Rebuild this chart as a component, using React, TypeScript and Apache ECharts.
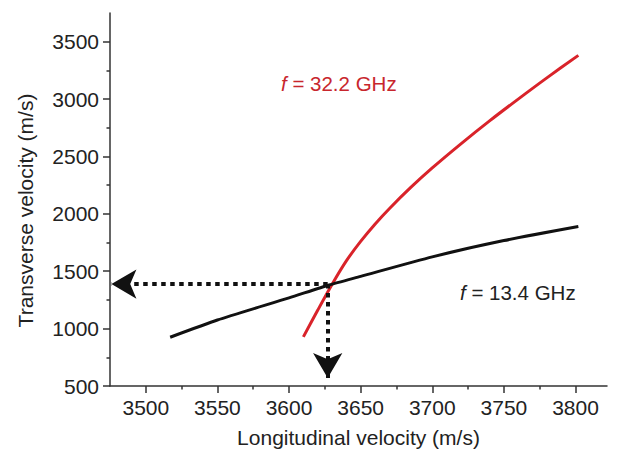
import React, { useEffect, useRef } from 'react';
import * as echarts from 'echarts';

// Axis ticks
const xTicks = [3500, 3550, 3600, 3650, 3700, 3750, 3800];
const xMinorTicks = [3525, 3575, 3625, 3675, 3725, 3775];
const yTicks = [500, 1000, 1500, 2000, 2500, 3000, 3500];
const yMinorTicks = [750, 1250, 1750, 2250, 2750, 3250];

// f = 13.4 GHz (black)
const lowX = [3517, 3550, 3600, 3628, 3650, 3700, 3750, 3802];
const lowY = [925, 1075, 1268, 1380, 1455, 1625, 1767, 1889];

// f = 32.2 GHz (red)
const highX = [3610, 3620, 3630, 3640, 3650, 3660, 3670, 3685, 3700, 3720, 3740, 3760, 3780, 3802];
const highY = [928, 1160, 1385, 1590, 1760, 1910, 2045, 2230, 2400, 2610, 2810, 3000, 3185, 3381];

// Crossing point and arrow ends
const crossX = 3627;
const crossY = 1388;
const hArrowEndX = 3476;
const vArrowEndY = 570;

const X_MIN = 3475;
const X_MAX = 3822;
const Y_MIN = 500;
const Y_MAX = 3750;

const FONT = '"Liberation Sans", Arial, Helvetica, sans-serif';
const TEXT = '#222';
const AXIS = '#333';
const FS = 21;

export default function App() {
  const ref = useRef<HTMLDivElement>(null);
  useEffect(() => {
    if (!ref.current) return;
    const chart = echarts.init(ref.current, null, { renderer: 'svg' });
    const low = lowX.map((x, i) => [x, lowY[i]]);
    const high = highX.map((x, i) => [x, highY[i]]);
    const axisLineStyle = { color: AXIS, width: 1.5 };
    const plain = (v: number) => String(v);
    chart.setOption({
      animation: false,
      backgroundColor: '#fff',
      grid: { left: 110, right: 10, top: 13, bottom: 66 },
      xAxis: [
        {
          type: 'value',
          min: X_MIN,
          max: X_MAX,
          position: 'bottom',
          name: 'Longitudinal velocity (m/s)',
          nameLocation: 'middle',
          nameGap: 41,
          nameTextStyle: { fontFamily: FONT, fontSize: FS, color: TEXT },
          axisLine: { show: true, lineStyle: axisLineStyle },
          axisTick: { show: true, inside: false, length: 7, customValues: xTicks, lineStyle: axisLineStyle },
          axisLabel: { customValues: xTicks, formatter: plain, margin: 11, fontFamily: FONT, fontSize: FS, color: TEXT },
          splitLine: { show: false },
        },
        {
          type: 'value',
          min: X_MIN,
          max: X_MAX,
          position: 'bottom',
          axisLine: { show: false },
          axisTick: { show: true, length: 3.5, customValues: xMinorTicks, lineStyle: axisLineStyle },
          axisLabel: { show: false },
          splitLine: { show: false },
        },
      ],
      yAxis: [
        {
          type: 'value',
          min: Y_MIN,
          max: Y_MAX,
          position: 'left',
          name: 'Transverse velocity (m/s)',
          nameLocation: 'middle',
          nameGap: 74,
          nameTextStyle: { fontFamily: FONT, fontSize: FS, color: TEXT, padding: [0, 22, 0, 0] },
          axisLine: { show: true, lineStyle: axisLineStyle },
          axisTick: { show: true, inside: false, length: 7, customValues: yTicks, lineStyle: axisLineStyle },
          axisLabel: { customValues: yTicks, formatter: plain, margin: 11, fontFamily: FONT, fontSize: FS, color: TEXT },
          splitLine: { show: false },
        },
        {
          type: 'value',
          min: Y_MIN,
          max: Y_MAX,
          position: 'left',
          axisLine: { show: false },
          axisTick: { show: true, length: 3.5, customValues: yMinorTicks, lineStyle: axisLineStyle },
          axisLabel: { show: false },
          splitLine: { show: false },
        },
      ],
      series: [
        {
          name: 'f = 13.4 GHz',
          type: 'line',
          data: low,
          showSymbol: false,
          smooth: 0.2,
          lineStyle: { color: '#111', width: 3 },
          z: 3,
          markLine: {
            silent: true,
            symbol: ['none', 'arrow'],
            symbolSize: [22, 25],
            label: { show: false },
            lineStyle: { color: '#111', width: 4, type: [4.5, 4.5] },
            emphasis: { disabled: true },
            data: [
              [{ coord: [crossX, crossY] }, { coord: [hArrowEndX, crossY] }],
              [{ coord: [crossX, crossY] }, { coord: [crossX, vArrowEndY] }],
            ],
          },
        },
        {
          name: 'f = 32.2 GHz',
          type: 'line',
          data: high,
          showSymbol: false,
          smooth: 0.3,
          lineStyle: { color: '#d9232a', width: 3 },
          z: 2,
        },
      ],
      graphic: [
        {
          type: 'text',
          x: 281,
          y: 83,
          style: {
            text: '{i|f} = 32.2 GHz',
            fontFamily: FONT,
            fontSize: 20.5,
            fill: '#c8262d',
            verticalAlign: 'middle',
            rich: { i: { fontStyle: 'italic', fontFamily: FONT, fontSize: 20.5, fill: '#c8262d' } },
          },
        },
        {
          type: 'text',
          x: 460,
          y: 292,
          style: {
            text: '{i|f} = 13.4 GHz',
            fontFamily: FONT,
            fontSize: 20.5,
            fill: TEXT,
            verticalAlign: 'middle',
            rich: { i: { fontStyle: 'italic', fontFamily: FONT, fontSize: 20.5, fill: TEXT } },
          },
        },
      ],
    });
    return () => chart.dispose();
  }, []);
  return (
    <div
      ref={ref}
      style={{ position: 'fixed', left: 0, top: 0, width: 617, height: 453, background: '#fff' }}
    />
  );
}
